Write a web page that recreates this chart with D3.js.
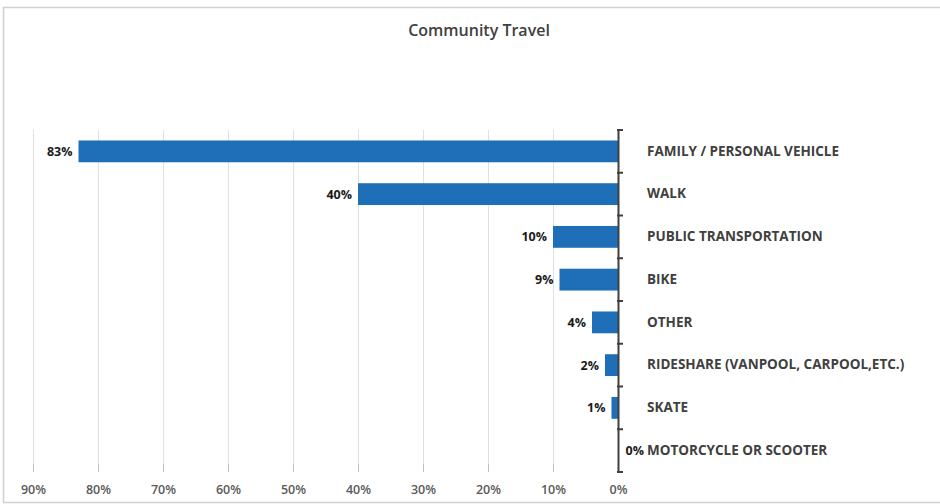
<!DOCTYPE html>
<html>
<head>
<meta charset="utf-8">
<script src="https://cdn.jsdelivr.net/npm/d3@7/dist/d3.min.js"></script>
<style>
  html, body { margin: 0; padding: 0; background: #fff; }
  svg { display: block; font-family: "Open Sans", "Noto Sans", sans-serif; }
</style>
</head>
<body>
<svg id="chart" width="940" height="504"></svg>
<script>
// Share of respondents using each mode of community travel
const categories = [
  "FAMILY / PERSONAL VEHICLE",
  "WALK",
  "PUBLIC TRANSPORTATION",
  "BIKE",
  "OTHER",
  "RIDESHARE (VANPOOL, CARPOOL,ETC.)",
  "SKATE",
  "MOTORCYCLE OR SCOOTER"
];
const values = [0.83, 0.40, 0.10, 0.09, 0.04, 0.02, 0.01, 0.00];
const tickValues = [0.9, 0.8, 0.7, 0.6, 0.5, 0.4, 0.3, 0.2, 0.1, 0];
const title = "Community Travel";

const svg = d3.select("#chart");
const W = 940, H = 504;
const plot = { left: 33, right: 618, top: 130, bottom: 472 };

// Outer frame
svg.append("rect")
  .attr("x", 3.5).attr("y", 7.5)
  .attr("width", W + 10).attr("height", 495)
  .attr("fill", "#fff")
  .attr("stroke", "#d0d0d0")
  .attr("stroke-width", 1.5);

// Title
svg.append("text")
  .attr("x", 479).attr("y", 36)
  .attr("text-anchor", "middle")
  .attr("font-size", 16).attr("font-weight", 600)
  .attr("fill", "#404040")
  .text(title);

// Bars grow leftward from the 0% baseline on the right
const x = d3.scaleLinear().domain([0.9, 0]).range([plot.left, plot.right]);
const y = d3.scaleBand().domain(categories).range([plot.top, plot.bottom]).paddingInner(0.49).paddingOuter(0.245);

// Vertical gridlines
svg.append("g")
  .selectAll("line")
  .data(tickValues.filter(t => t > 0))
  .join("line")
  .attr("x1", d => Math.round(x(d)) + 0.5).attr("x2", d => Math.round(x(d)) + 0.5)
  .attr("y1", plot.top).attr("y2", plot.bottom)
  .attr("stroke", "#e0e0e0").attr("stroke-width", 1);

// Gridline tick stubs at the base
svg.append("g")
  .selectAll("line")
  .data(tickValues.filter(t => t > 0))
  .join("line")
  .attr("x1", d => Math.round(x(d)) + 0.5).attr("x2", d => Math.round(x(d)) + 0.5)
  .attr("y1", plot.bottom - 8).attr("y2", plot.bottom)
  .attr("stroke", "#bfbfbf").attr("stroke-width", 1);

// X axis labels (no domain line)
const xAxis = d3.axisBottom(x)
  .tickValues(tickValues)
  .tickFormat(d3.format(".0%"))
  .tickSize(0)
  .tickPadding(0);
const gx = svg.append("g")
  .attr("transform", `translate(0,${plot.bottom + 10})`)
  .call(xAxis);
gx.select(".domain").remove();
gx.selectAll("text")
  .attr("font-family", "\"Open Sans\", sans-serif")
  .attr("font-size", 12.5).attr("font-weight", 600)
  .attr("fill", "#595959")
  .attr("dy", "0.95em");

// Bars
svg.append("g")
  .selectAll("rect")
  .data(values)
  .join("rect")
  .attr("x", d => x(d))
  .attr("y", (d, i) => y(categories[i]))
  .attr("width", d => x(0) - x(d))
  .attr("height", y.bandwidth())
  .attr("fill", "#1f6fb8");

// Value labels
svg.append("g")
  .selectAll("text")
  .data(values)
  .join("text")
  .attr("x", d => d === 0 ? x(0) + 26 : x(d) - 6)
  .attr("y", (d, i) => y(categories[i]) + y.bandwidth() / 2)
  .attr("dy", "0.35em")
  .attr("text-anchor", "end")
  .attr("font-size", 12.5).attr("font-weight", 700)
  .attr("fill", "#1a1a1a")
  .text(d => d3.format(".0%")(d));

// Category axis on the right side of the bars
const yAxis = d3.axisRight(y).tickSize(0).tickPadding(29);
const gy = svg.append("g")
  .attr("transform", `translate(${x(0)},0)`)
  .call(yAxis);
gy.select(".domain")
  .attr("stroke", "#404040").attr("stroke-width", 2);
gy.selectAll("text")
  .attr("font-family", "\"Open Sans\", sans-serif")
  .attr("font-size", 13.5).attr("font-weight", 700)
  .attr("fill", "#404040");

// Category boundary ticks
const bounds = d3.range(categories.length + 1).map(i => plot.top + i * (plot.bottom - plot.top) / categories.length);
gy.append("g")
  .selectAll("line")
  .data(bounds)
  .join("line")
  .attr("x1", -1).attr("x2", 5)
  .attr("y1", d => d).attr("y2", d => d)
  .attr("stroke", "#404040").attr("stroke-width", 2);
</script>
</body>
</html>
